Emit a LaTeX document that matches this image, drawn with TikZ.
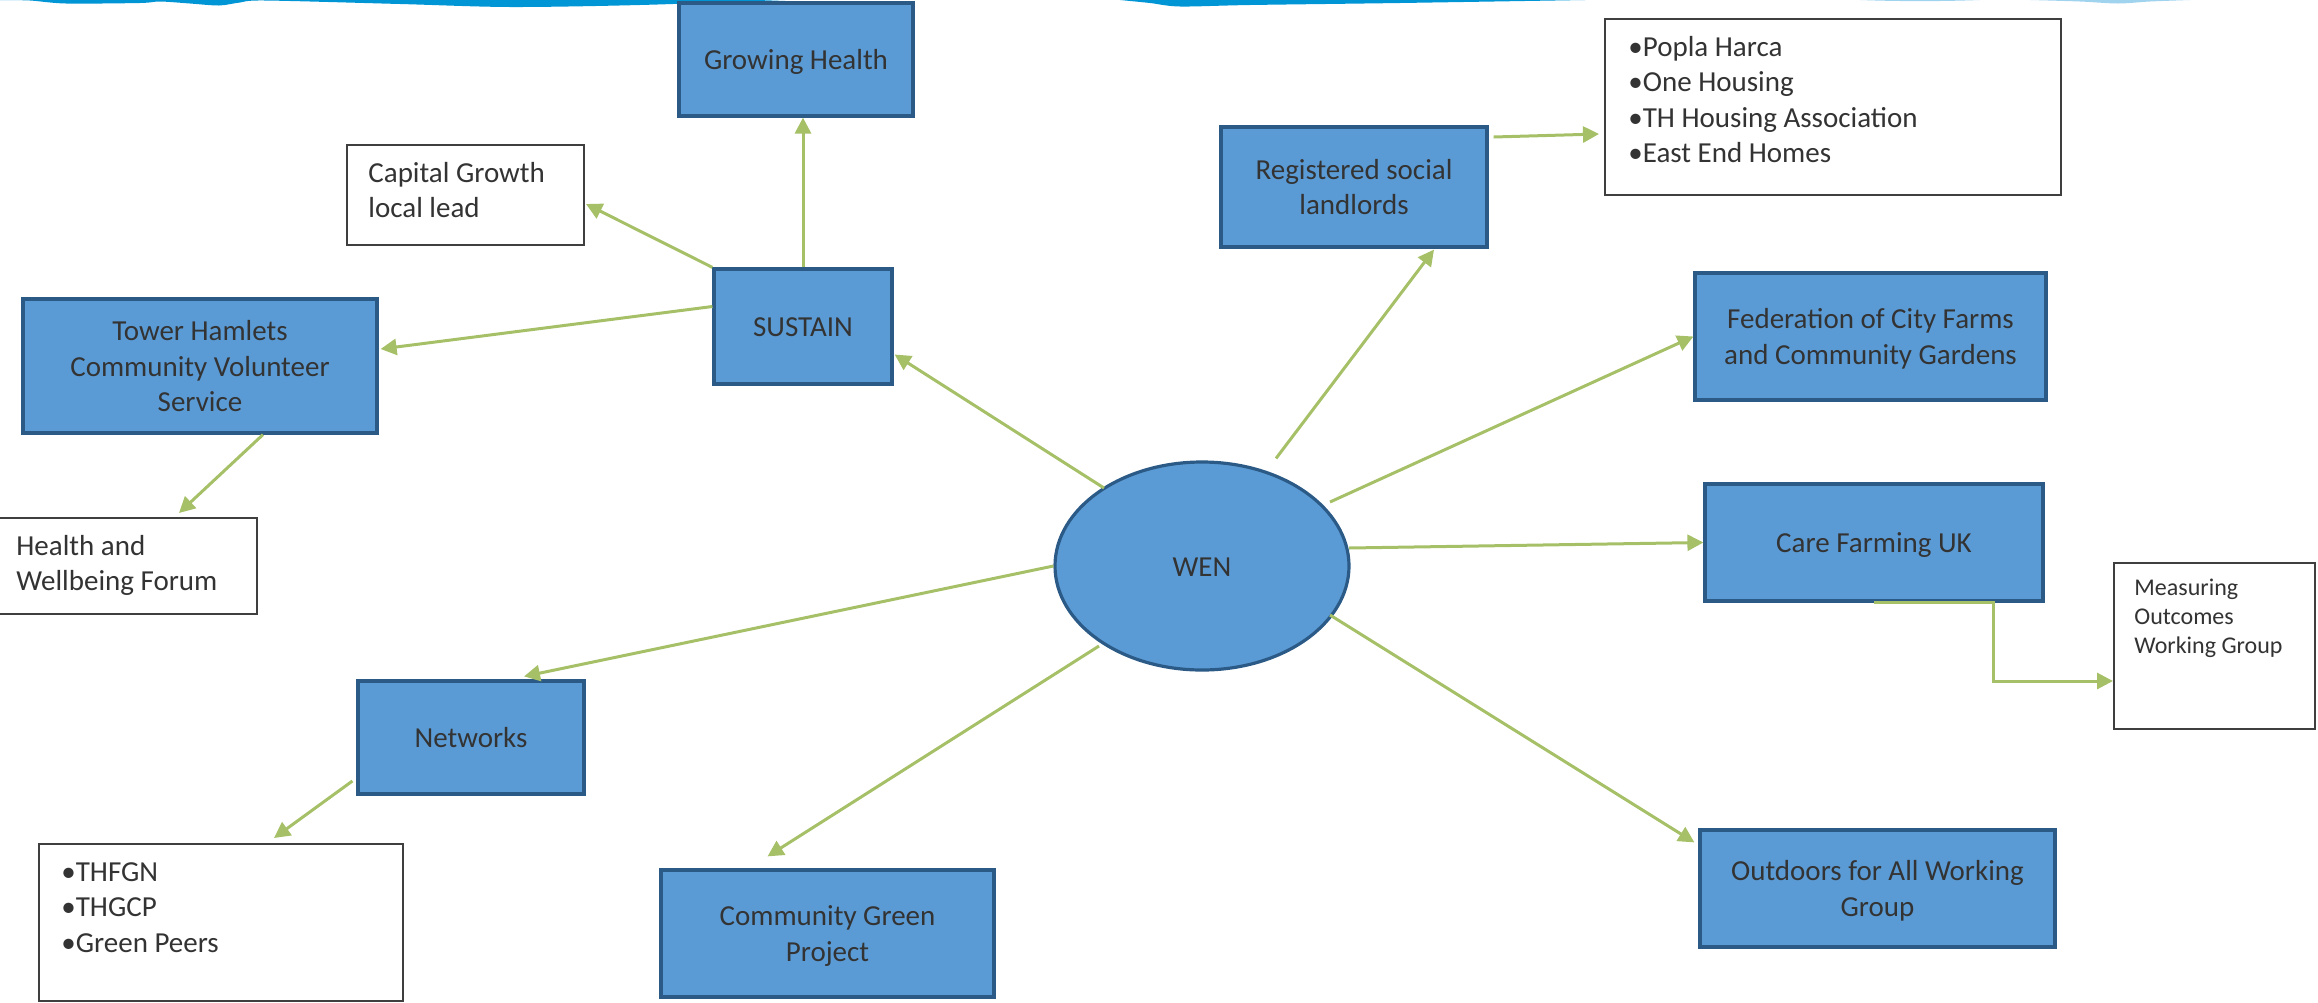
\documentclass[tikz,border=0pt]{standalone}
\usepackage{fontspec}
\setmainfont{Carlito}
\usetikzlibrary{arrows.meta,calc,shapes.geometric}
\definecolor{boxfill}{HTML}{5B9BD5}
\definecolor{boxline}{HTML}{2B5A87}
\definecolor{arr}{HTML}{A6C068}
\definecolor{txt}{HTML}{333333}
\definecolor{wave}{HTML}{0096D6}
\definecolor{wavelight}{HTML}{9FD3EE}
\definecolor{wboxline}{HTML}{3F3F3F}
\newcommand{\lstrut}{\rule[-3.8pt]{0pt}{17.75pt}}
\begin{document}
\begin{tikzpicture}[x=0.5pt,y=-0.5pt,
  mainfont/.style={font=\fontsize{14.5}{17.75}\selectfont},
  bluebox/.style={draw=boxline, line width=1.6pt, fill=boxfill, text=txt, align=center, inner sep=0pt, mainfont},
  whitebox/.style={draw=wboxline, line width=1pt, fill=white, inner sep=0pt},
  wtext/.style={text=txt, anchor=base west, inner sep=0pt, mainfont},
  link/.style={draw=arr, line width=1.5pt, -{Triangle[length=8pt,width=8pt]}}
]
\useasboundingbox (0,0) rectangle (2318,1002);
% decorative wave at the top
\fill[wave] (0,-2) -- (785,-2) -- plot[smooth] coordinates {(785,0) (640,5) (510,7) (400,4) (265,0.5) (240,2.5) (219,5.5) (190,3.5) (160,1.5) (140,3) (66,3.5) (30,0.5) (0,0)} -- cycle;
\fill[wave] (1120,-2) -- (1585,-2) -- plot[smooth] coordinates {(1585,0) (1400,3) (1250,5) (1180,6.5) (1150,3) (1120,0)} -- cycle;
\fill[wavelight] (1860,-2) -- (1980,-2) -- (1980,0) .. controls (1940,1.5) and (1900,1.5) .. (1860,0) -- cycle;
\fill[wavelight] (2030,-2) -- (2190,-2) -- plot[smooth] coordinates {(2190,0) (2150,1.5) (2118,3.5) (2080,1.5) (2030,0)} -- cycle;

% blue nodes
\node[bluebox, minimum width=117pt, minimum height=56.5pt] (gh) at (796,59.5) {\lstrut Growing Health};
\node[bluebox, minimum width=89pt, minimum height=57.5pt] (sustain) at (803,326.5) {\lstrut SUSTAIN};
\node[bluebox, minimum width=177pt, minimum height=67pt] (thcvs) at (200,366) {\lstrut Tower Hamlets\\\lstrut Community Volunteer\\\lstrut Service};
\node[bluebox, minimum width=113pt, minimum height=56.5pt] (networks) at (471,737.5) {\lstrut Networks};
\node[bluebox, minimum width=166.5pt, minimum height=63.5pt] (cgp) at (827.5,933.5) {\lstrut Community Green\\\lstrut Project};
\node[bluebox, minimum width=133pt, minimum height=60pt] (rsl) at (1354,187) {\lstrut Registered social\\\lstrut landlords};
\node[bluebox, minimum width=175.5pt, minimum height=63.5pt] (fed) at (1870.5,336.5) {\lstrut Federation of City Farms\\\lstrut and Community Gardens};
\node[bluebox, minimum width=169pt, minimum height=58.5pt] (cfuk) at (1874,542.5) {\lstrut Care Farming UK};
\node[bluebox, minimum width=177.5pt, minimum height=58.5pt] (ofa) at (1877.5,888.5) {\lstrut Outdoors for All Working\\\lstrut Group};
\node[bluebox, ellipse, minimum width=147pt, minimum height=104pt] (wen) at (1202,566) {\lstrut WEN};

% white boxes
\node[whitebox, minimum width=118.5pt, minimum height=50pt] (cg) at (465.5,195) {};
\node[wtext] (cgt) at (368,182) {\parbox[t]{110pt}{Capital Growth\\local lead}};
\node[whitebox, minimum width=130pt, minimum height=48pt] (hwf) at (127,566) {};
\node[wtext] (hwft) at (16,555) {\parbox[t]{125pt}{Health and\\Wellbeing Forum}};
\node[whitebox, minimum width=182pt, minimum height=78.5pt] (thfgn) at (221,922.5) {};
\node[wtext] (thfgnt) at (61,881) {\parbox[t]{160pt}{•THFGN\\•THGCP\\•Green Peers}};
\node[whitebox, minimum width=228pt, minimum height=88pt] (popla) at (1833,107) {};
\node[wtext] (poplat) at (1628,56) {\parbox[t]{210pt}{•Popla Harca\\•One Housing\\•TH Housing Association\\•East End Homes}};
\node[whitebox, minimum width=100.5pt, minimum height=83pt] (mo) at (2214.5,646) {};
\node[wtext, font=\fontsize{12}{14.5}\selectfont] (mot) at (2134,595) {\parbox[t]{90pt}{Measuring\\Outcomes\\Working Group}};

% connectors
\draw[link] ($(wen.center)+(-98,-78)$) -- ($(sustain.east)+(1,28)$);
\draw[link] (sustain.north) -- (sustain.north |- gh.south);
\draw[link] (sustain.north west) -- ($(cg.east)+(1,9)$);
\draw[link] ($(sustain.west)+(0,-20)$) -- ($(thcvs.east)+(2,-17)$);
\draw[link] ($(thcvs.south)+(63,0)$) -- ($(hwf.north)+(52,-4)$);
\draw[link] (wen.west) -- ($(networks.north)+(53,-3)$);
\draw[link] ($(networks.west)+(-4,43.5)$) -- ($(thfgn.north)+(53,-5)$);
\draw[link] ($(wen.center)+(-103,80)$) -- ($(cgp.north)+(-60,-12)$);
\draw[link] ($(wen.north)+(74,-2)$) -- ($(rsl.south)+(80,1)$);
\draw[link] ($(rsl.east)+(5,-50)$) -- ($(popla.west)+(-5,27)$);
\draw[link] ($(wen.center)+(128,-64)$) -- (fed.west);
\draw[link] ($(wen.center)+(147,-18)$) -- (cfuk.west);
\draw[link] (cfuk.south) -- ++(119,0) |- ($(mo.west)+(0,35)$);
\draw[link] ($(wen.center)+(128,49)$) -- ($(ofa.north west)+(-4,14)$);
\end{tikzpicture}
\end{document}
